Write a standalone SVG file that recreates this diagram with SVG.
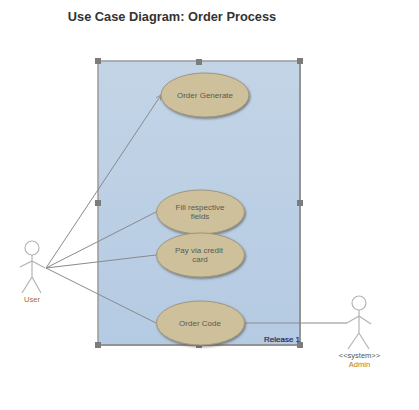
<svg xmlns="http://www.w3.org/2000/svg" width="419" height="410" viewBox="0 0 419 410">
<style>
text{font-family:"Liberation Sans",Arial,sans-serif;text-anchor:middle}
.uc{fill:#cdc09a;stroke:#a09880;stroke-width:1;filter:url(#sh)}
.ut{font-size:8px;fill:#5a5a50}
.h{fill:#7c7c7c}
.c{fill:none;stroke:#8a8a8a;stroke-width:1}
.a{fill:none;stroke:#b4b4b4;stroke-width:1.2}
</style>
<defs>
<linearGradient id="bg" x1="0" y1="0" x2="0" y2="1"><stop offset="0" stop-color="#c3d4e6"/><stop offset="1" stop-color="#b5cbe3"/></linearGradient>
<filter id="sh" x="-10%" y="-10%" width="125%" height="130%"><feDropShadow dx="1" dy="1.5" stdDeviation="0.8" flood-color="#555" flood-opacity="0.7"/></filter>
<marker id="open" markerWidth="7" markerHeight="7" refX="6" refY="3" orient="auto" markerUnits="userSpaceOnUse"><path d="M1 0.500L6 3L1 5.500" fill="none" stroke="#8a8a8a" stroke-width="0.8"/></marker>
</defs>
<rect width="419" height="410" fill="#fff"/>
<text x="172" y="21" style="font-size:12.800px;font-weight:bold;fill:#333">Use Case Diagram: Order Process</text>
<g id="system">
<rect x="98" y="61" width="202" height="284" fill="url(#bg)" stroke="#9a9a9a" stroke-width="1.5"/>
<path d="M98 345H300V61" fill="none" stroke="#8c8c8c" stroke-width="1.5"/>
<text x="282" y="342" style="font-size:8px;fill:#2b1e4e;stroke:#2b1e4e;stroke-width:.2">Release 1</text>
<rect class="h" x="95" y="58" width="6" height="6"/><rect class="h" x="196" y="59" width="6" height="6"/><rect class="h" x="297" y="58" width="6" height="6"/>
<rect class="h" x="95" y="200" width="6" height="6"/><rect class="h" x="297" y="200" width="6" height="6"/>
<rect class="h" x="95" y="342" width="6" height="6"/><rect class="h" x="196" y="342" width="6" height="6"/><rect class="h" x="297" y="342" width="6" height="6"/>
</g>
<g id="connectors">
<path class="c" d="M46 268L161 95" marker-end="url(#open)"/>
<path class="c" d="M46 268L156 212"/>
<path class="c" d="M46 268L156 255"/>
<path class="c" d="M46 268L156 323"/>
<path class="c" d="M245 323H347"/>
</g>
<g id="uc1"><ellipse class="uc" cx="205" cy="95" rx="44" ry="22"/><text class="ut" x="205" y="98">Order Generate</text></g>
<g id="uc2"><ellipse class="uc" cx="200.500" cy="212" rx="44" ry="22"/><text class="ut" x="200" y="210">Fill respective</text><text class="ut" x="200" y="219">fields</text></g>
<g id="uc3"><ellipse class="uc" cx="200.500" cy="255" rx="44" ry="22"/><text class="ut" x="199" y="253">Pay via credit</text><text class="ut" x="200" y="262">card</text></g>
<g id="uc4"><ellipse class="uc" cx="200.500" cy="323" rx="44" ry="22"/><text class="ut" x="200" y="326">Order Code</text></g>
<g id="user">
<circle class="a" cx="32" cy="248" r="7"/>
<path class="a" d="M32 255V277M20 267L32 261L45 268M22 293L32 277L41 293"/>
<text x="32" y="302" style="font-size:7.500px;fill:#b06a20">User</text>
</g>
<g id="admin">
<circle class="a" cx="359" cy="303" r="7"/>
<path class="a" d="M359 310V333M347 323L359 316L371 324M348 349L359 333L369 349"/>
<text x="359.500" y="358" style="font-size:7.500px;fill:#555">&lt;&lt;system&gt;&gt;</text>
<text x="359.500" y="367" style="font-size:7.500px;fill:#b07a30">Admin</text>
</g>
</svg>
